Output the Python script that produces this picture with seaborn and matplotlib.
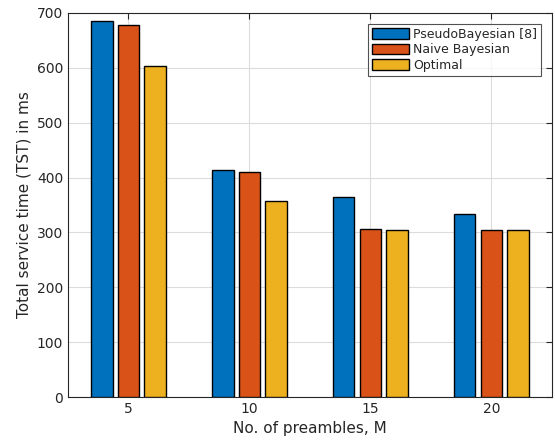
import matplotlib
matplotlib.use("Agg")
import matplotlib.pyplot as plt
import seaborn as sns
import pandas as pd

preambles = ["5", "10", "15", "20"]
series_names = ["PseudoBayesian [8]", "Naive Bayesian", "Optimal"]
pseudo_bayesian = [685, 413, 364, 333]
naive_bayesian = [678, 411, 307, 305]
optimal = [603, 357, 305, 305]
colors = ["#0072BD", "#D95319", "#EDB120"]

rows = []
for name, vals in zip(series_names, [pseudo_bayesian, naive_bayesian, optimal]):
    for m, v in zip(preambles, vals):
        rows.append({"M": m, "TST": v, "Method": name})
df = pd.DataFrame(rows)

sns.set_theme(style="white")
plt.rcParams['font.family'] = ['DejaVu Sans']

fig = plt.figure(figsize=(5.55, 4.43), dpi=100)
ax = fig.add_axes([0.1225, 0.1038, 0.872, 0.867])

sns.barplot(data=df, x="M", y="TST", hue="Method", order=preambles,
            hue_order=series_names, palette=colors, saturation=1,
            width=0.66, gap=0.2,
            edgecolor="black", linewidth=1.0, ax=ax, zorder=3)

ax.set_xlim(-0.5, 3.5)
ax.set_ylim(0, 700)
ax.set_yticks(range(0, 701, 100))
ax.grid(True, color="#dcdcdc", linewidth=0.8, zorder=0)
ax.set_axisbelow(True)
for s in ax.spines.values():
    s.set_visible(True)
    s.set_color("#262626")
    s.set_linewidth(0.8)
ax.tick_params(direction="in", length=4, width=0.8, color="#262626",
               top=True, right=True, labelsize=10, labelcolor="#262626")
ax.set_xlabel("No. of preambles, M", fontsize=11, color="#262626")
ax.set_ylabel("Total service time (TST) in ms", fontsize=11, color="#262626")

leg = ax.legend(loc="upper right", fontsize=9, frameon=True, fancybox=False,
                edgecolor="#262626", handlelength=3.0, handleheight=0.9,
                borderaxespad=0.9, labelspacing=0.2, handletextpad=0.3,
                borderpad=0.3)
leg.get_frame().set_linewidth(0.8)

fig.savefig("out.png", dpi=100)
